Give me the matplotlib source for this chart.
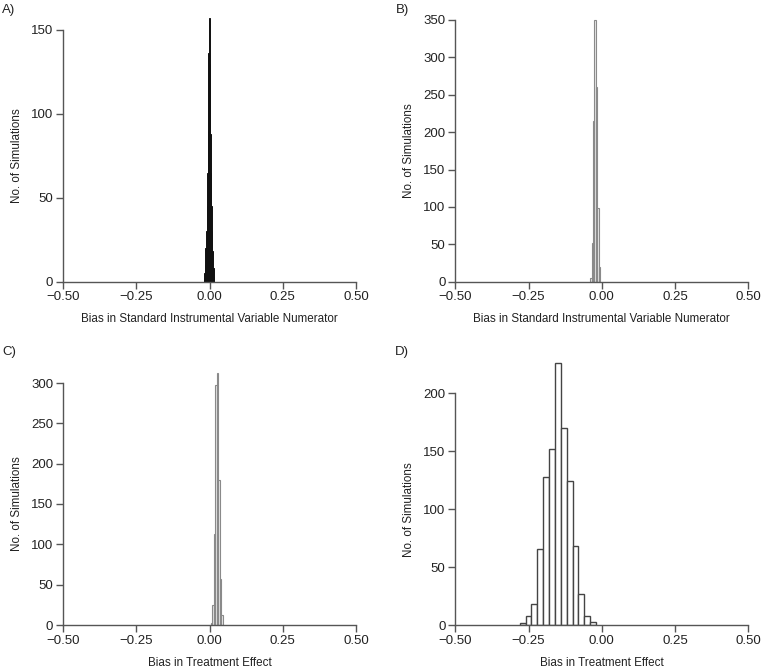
import matplotlib
matplotlib.use("Agg")
import matplotlib.pyplot as plt
import numpy as np

plt.rcParams['font.family'] = ['Liberation Sans', 'DejaVu Sans']

# ---------------- data ----------------
# Panel A: bias in standard IV numerator (bin width 0.002)
a_edges_start = -0.020
a_width = 0.002
a_counts = [2, 5, 10, 20, 30, 45, 65, 90, 136, 157, 130, 88, 65, 45, 30, 18, 8, 3]

# Panel B: bias in standard IV numerator (bin width 0.005)
b_edges_start = -0.040
b_width = 0.005
b_counts = [5, 52, 215, 350, 260, 98, 20]

# Panel C: bias in treatment effect (bin width 0.005)
c_edges_start = 0.005
c_width = 0.005
c_counts = [2, 25, 113, 298, 313, 180, 57, 12]

# Panel D: bias in treatment effect (bin width 0.02)
d_edges_start = -0.28
d_width = 0.02
d_counts = [2, 8, 18, 66, 128, 152, 226, 170, 124, 68, 27, 8, 3]

x_ticks = [-0.50, -0.25, 0.00, 0.25, 0.50]
x_ticklabels = ['\u22120.50', '\u22120.25', '0.00', '0.25', '0.50']

panel_labels = ['A)', 'B)', 'C)', 'D)']
xlabels = ['Bias in Standard Instrumental Variable Numerator',
           'Bias in Standard Instrumental Variable Numerator',
           'Bias in Treatment Effect',
           'Bias in Treatment Effect']
ylabel = 'No. of Simulations'

W, H = 761, 669
fig = plt.figure(figsize=(W / 100, H / 100), dpi=100)

axis_col = '#555555'
text_col = '#222222'
fs = 9.5
lfs = 8.4

# pixel geometry: (left, right, y0 pixel, px-per-unit, ymax, ytick max, ytick step)
specs = [
    (63.0, 356.0, 281.7, 251.7 / 150, 160, 150, 50),
    (455.3, 748.3, 281.7, 261.7 / 350, 360, 350, 50),
    (63.0, 356.0, 625.0, 242.0 / 300, 320, 300, 50),
    (455.3, 748.3, 625.0, 231.7 / 200, 230, 200, 50),
]
data = [
    (a_edges_start, a_width, a_counts, '#111111', '#111111', 0.7),
    (b_edges_start, b_width, b_counts, '#e8e8e8', '#8a8a8a', 0.8),
    (c_edges_start, c_width, c_counts, '#e8e8e8', '#8a8a8a', 0.8),
    (d_edges_start, d_width, d_counts, 'white', '#444444', 1.0),
]
label_pos = [(2, 10), (396, 10), (2, 352), (395, 352)]

for i, (sp, dt) in enumerate(zip(specs, data)):
    left, right, y0, scale, ymax, ytop, ystep = sp
    top = y0 - ymax * scale
    ax = fig.add_axes([left / W, 1 - y0 / H, (right - left) / W, (y0 - top) / H])
    start, width, counts, fc, ec, lw = dt
    lefts = start + width * np.arange(len(counts))
    ax.bar(lefts, counts, width=width, align='edge', color=fc, edgecolor=ec, linewidth=lw)
    ax.set_xlim(-0.5, 0.5)
    ax.set_ylim(0, ymax)
    ax.set_xticks(x_ticks)
    ax.set_xticklabels(x_ticklabels)
    ax.set_yticks(np.arange(0, ytop + 1, ystep))
    for s in ['top', 'right']:
        ax.spines[s].set_visible(False)
    for s in ['left', 'bottom']:
        ax.spines[s].set_color(axis_col)
        ax.spines[s].set_linewidth(1.0)
    ax.spines['left'].set_bounds(0, ytop)
    ax.spines['bottom'].set_bounds(-0.5, 0.5)
    ax.tick_params(direction='out', length=5, width=1.0, color=axis_col,
                   labelsize=fs, labelcolor=text_col, pad=2)
    ax.patch.set_alpha(0)
    ax.set_xlabel(xlabels[i], fontsize=lfs, color=text_col)
    ax.set_ylabel(ylabel, fontsize=lfs, color=text_col)
    hpx = y0 - top
    wpx = right - left
    ax.xaxis.set_label_coords(0.5, -31.5 / hpx)
    ax.yaxis.set_label_coords(-40.0 / wpx, ytop * scale / 2 / hpx)
    lx, ly = label_pos[i]
    fig.text(lx / W, 1 - ly / H, panel_labels[i], fontsize=fs, color=text_col,
             ha='left', va='center')

fig.savefig('out.png', dpi=100)
